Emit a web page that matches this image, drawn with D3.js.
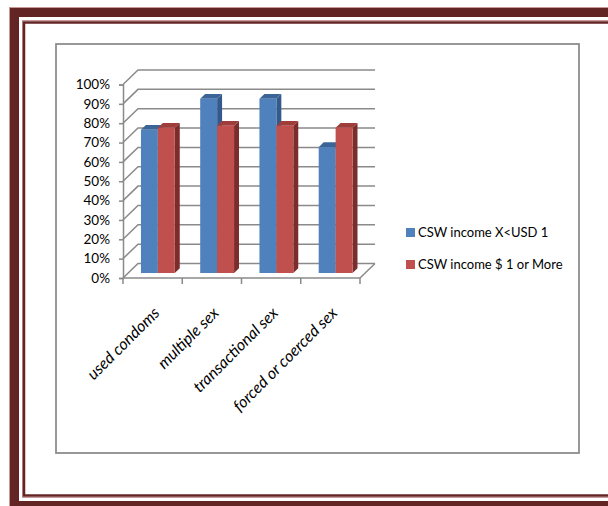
<!DOCTYPE html>
<html>
<head>
<meta charset="utf-8">
<script src="https://cdn.jsdelivr.net/npm/d3@7"></script>
<style>
  html, body { margin: 0; padding: 0; background: #fff; }
  svg { display: block; font-family: Lato, "Open Sans", sans-serif; }
</style>
</head>
<body>
<svg id="chart" width="608" height="506"></svg>
<script>
// Survey indicators, by daily income group
const categories = ["used condoms", "multiple sex", "transactional sex", "forced or coerced sex"];
const seriesNames = ["CSW income X<USD 1", "CSW income $ 1 or More"];
const lowIncome = [0.74, 0.90, 0.90, 0.65];
const highIncome = [0.75, 0.76, 0.76, 0.75];
const yTicks = [0, 0.1, 0.2, 0.3, 0.4, 0.5, 0.6, 0.7, 0.8, 0.9, 1.0];

const seriesValues = [lowIncome, highIncome];
const faceColors = [
  { front: "#4f81bd", top: "#3c6597", side: "#34598a" },
  { front: "#c0504d", top: "#9e3d3a", side: "#7a2d2b" }
];

const svg = d3.select("#chart");

// Page frame: heavy outer band with a thin inner rule
const frameDark = "#632523", frameEdge = "#c79997";
svg.append("rect").attr("x", 9.5).attr("y", 7.5).attr("width", 640).attr("height", 520)
  .attr("fill", "none").attr("stroke", frameEdge).attr("stroke-width", 1);
svg.append("rect").attr("x", 14.5).attr("y", 12.5).attr("width", 640).attr("height", 493)
  .attr("fill", "none").attr("stroke", frameDark).attr("stroke-width", 9);
svg.append("rect").attr("x", 22.5).attr("y", 20.5).attr("width", 640).attr("height", 477)
  .attr("fill", "none").attr("stroke", frameEdge).attr("stroke-width", 1);
svg.append("rect").attr("x", 24).attr("y", 22.5).attr("width", 640).attr("height", 473)
  .attr("fill", "none").attr("stroke", frameDark).attr("stroke-width", 2.5);

// Chart area border
svg.append("rect").attr("x", 56).attr("y", 44).attr("width", 523).attr("height", 409)
  .attr("fill", "#fff").attr("stroke", "#8a8a8a").attr("stroke-width", 1.75);

// Oblique projection of the plot box
const DX = 15, DY = 14.5;            // full floor depth offset
const x = d3.scaleBand().domain(categories).range([123, 360]);
const xs = d3.scaleBand().domain([0, 1]).range([0, x.bandwidth()]).paddingOuter(0.75);
const y = d3.scaleLinear().domain([0, 1]).range([278, 84.5]);
const proj = (px, v, d) => [px + d * DX, y(v) - d * DY];

const grid = "#8a8a8a";
const g = svg.append("g");

// Side-wall diagonals and back-wall gridlines
yTicks.forEach(v => {
  const a = proj(123, v, 0), b = proj(123, v, 1), c = proj(360, v, 1);
  g.append("path")
    .attr("d", d3.line()([a, b, c]))
    .attr("fill", "none").attr("stroke", grid).attr("stroke-width", 1.5);
});
// Floor right edge
g.append("path").attr("d", d3.line()([proj(360, 0, 0), proj(360, 0, 1)]))
  .attr("fill", "none").attr("stroke", grid).attr("stroke-width", 1.5);

// Value axis
const yAxis = svg.append("g").attr("transform", "translate(123,0)")
  .call(d3.axisLeft(y).tickValues(yTicks).tickFormat(d3.format(".0%")).tickSize(4).tickPadding(9));
yAxis.select(".domain").attr("stroke", grid).attr("stroke-width", 1.5);
yAxis.selectAll(".tick line").attr("stroke", grid).attr("stroke-width", 1.5);
yAxis.selectAll("text").attr("font-size", 13.5).attr("fill", "#000").attr("font-family", "Lato");

// Category axis: floor front edge, boundary ticks and slanted labels
svg.append("path").attr("d", d3.line()([proj(123, 0, 0), proj(360, 0, 0)]))
  .attr("fill", "none").attr("stroke", grid).attr("stroke-width", 1.5);
const bounds = categories.map(c => x(c)).concat([x.range()[1]]);
svg.selectAll(".xtick").data(bounds).join("line")
  .attr("x1", d => d).attr("x2", d => d)
  .attr("y1", y(0)).attr("y2", y(0) + 6)
  .attr("stroke", grid).attr("stroke-width", 1.5);
svg.selectAll(".xlabel").data(categories).join("text")
  .attr("transform", d => `translate(${x(d) + x.bandwidth() / 2 + 4},${y(0) + 32}) rotate(-45)`)
  .attr("text-anchor", "end")
  .attr("dy", "0.35em")
  .attr("font-size", 16)
  .attr("font-style", "italic")
  .attr("fill", "#000")
  .text(d => d);

// 3-D columns: blue series drawn first, red in front of its side face
const dFront = 0.35, dBack = 0.68;
seriesValues.forEach((vals, si) => {
  const col = faceColors[si];
  const bars = svg.append("g");
  categories.forEach((c, ci) => {
    const v = vals[ci];
    const x0 = x(c) + xs(si), x1 = x0 + xs.bandwidth();
    const fbl = proj(x0, 0, dFront), fbr = proj(x1, 0, dFront);
    const ftl = proj(x0, v, dFront), ftr = proj(x1, v, dFront);
    const btl = proj(x0, v, dBack), btr = proj(x1, v, dBack), bbr = proj(x1, 0, dBack);
    bars.append("path").attr("d", d3.line()([fbr, ftr, btr, bbr]) + "Z").attr("fill", col.side);
    bars.append("path").attr("d", d3.line()([ftl, ftr, btr, btl]) + "Z").attr("fill", col.top);
    bars.append("path").attr("d", d3.line()([fbl, ftl, ftr, fbr]) + "Z").attr("fill", col.front);
  });
});

// Legend
const legend = svg.append("g");
seriesNames.forEach((name, i) => {
  const ly = 232.5 + i * 32;
  legend.append("rect").attr("x", 406).attr("y", ly - 4.5).attr("width", 9).attr("height", 9)
    .attr("fill", faceColors[i].front);
  legend.append("text").attr("x", 418).attr("y", ly).attr("dy", "0.35em")
    .attr("font-size", 13).attr("fill", "#000").text(name);
});
</script>
</body>
</html>
